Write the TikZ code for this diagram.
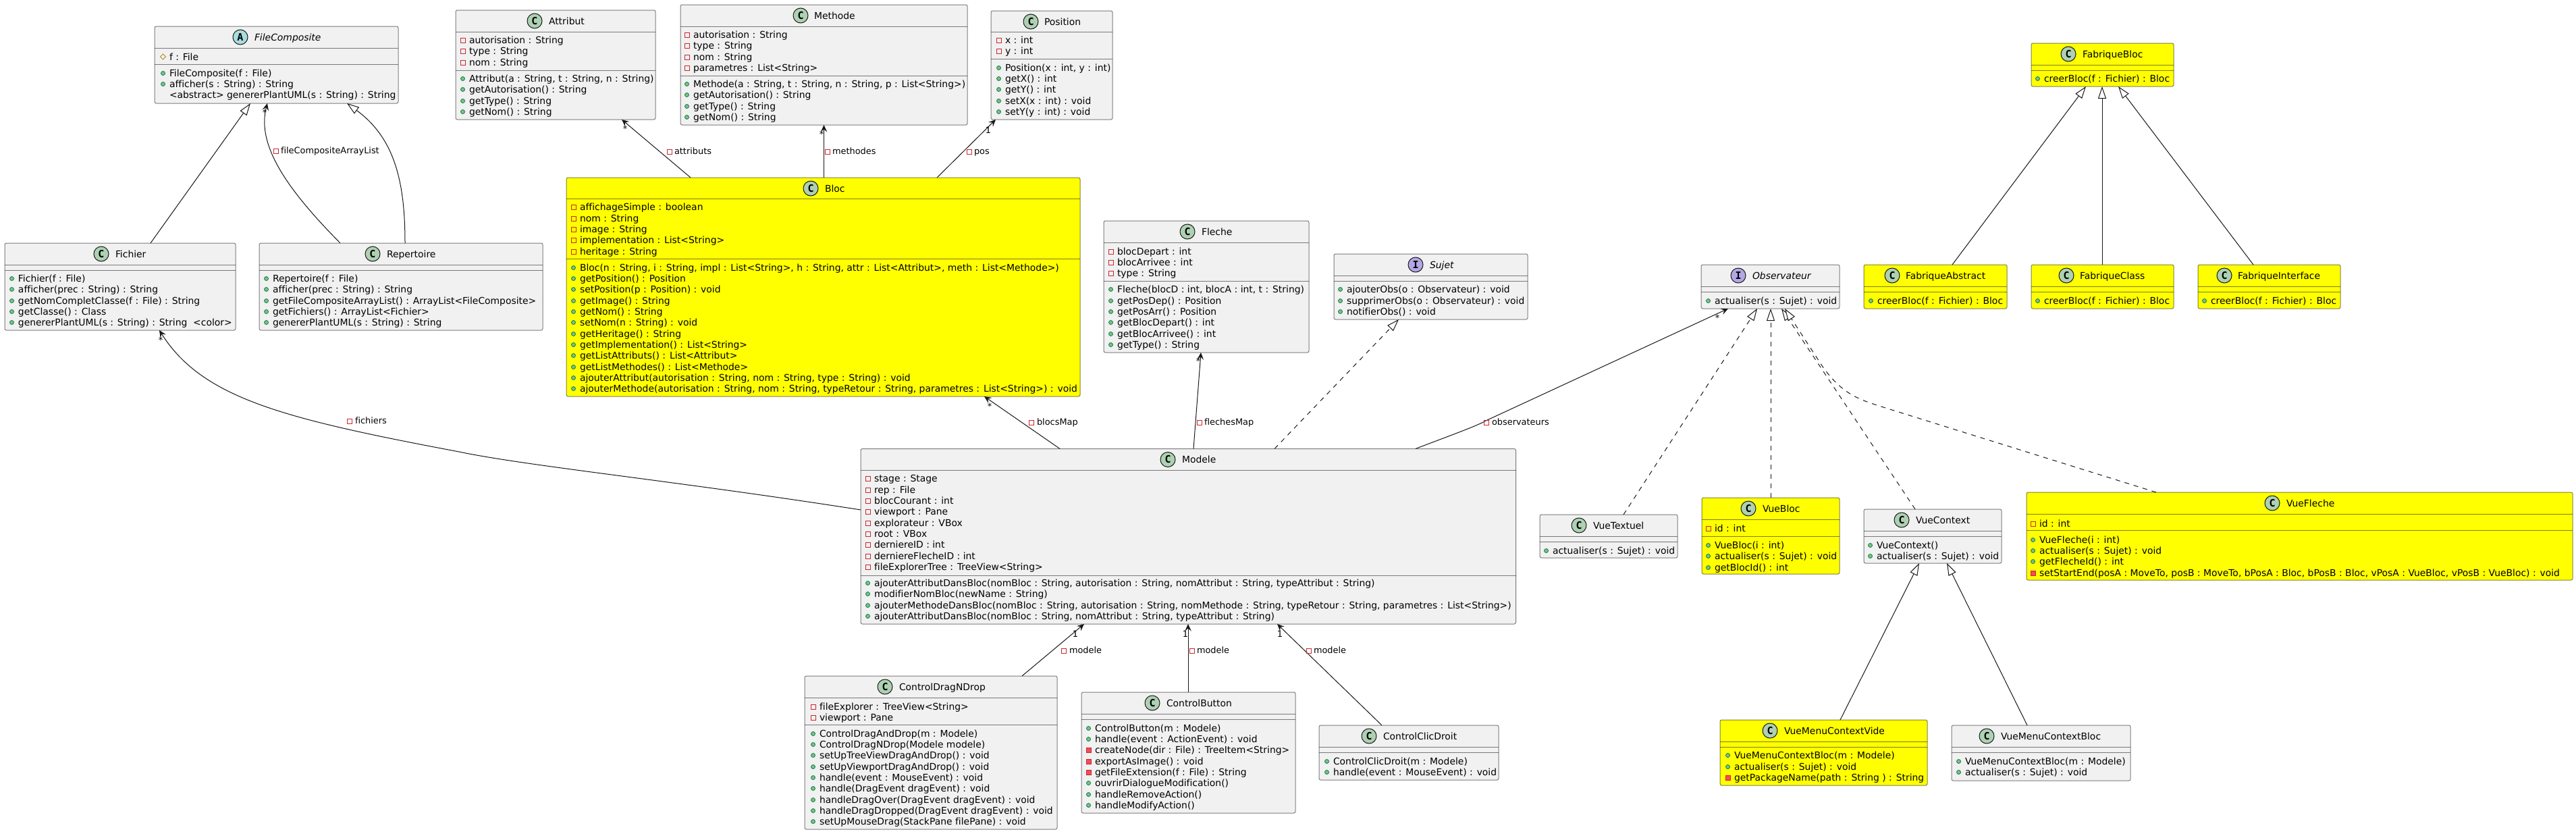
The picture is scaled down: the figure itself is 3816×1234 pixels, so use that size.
\documentclass[tikz,border=0pt]{standalone}
\usepackage{fontspec}
\setmainfont{DejaVu Sans}[Ligatures=NoCommon]
\newfontfamily\iconfont{DejaVu Sans Mono}[BoldFont={DejaVu Sans Mono Bold}]
\usetikzlibrary{arrows.meta}
\definecolor{boxg}{HTML}{F1F1F1}
\definecolor{boxy}{HTML}{FFFF00}
\definecolor{ink}{HTML}{181818}
\definecolor{icC}{HTML}{ADD1B2}
\definecolor{icA}{HTML}{A9DCDF}
\definecolor{icI}{HTML}{B4A7E5}
\definecolor{mred}{HTML}{C82930}
\definecolor{mredf}{HTML}{F24D5C}
\definecolor{mgreen}{HTML}{038048}
\definecolor{mgreenf}{HTML}{84BE84}
\definecolor{mgold}{HTML}{B38D22}
\tikzset{
  x=1pt,y=-1pt,
  classnode/.style={draw=ink,draw opacity=.55,line width=1pt,rounded corners=2.5pt,inner sep=0pt,outer sep=0pt},
  sepline/.style={ink,draw opacity=.55,line width=1pt},
  rowtext/.style={anchor=base west,inner sep=0pt,outer sep=0pt,font=\fontsize{13.9}{16}\selectfont,text=black},
  linktext/.style={anchor=base west,inner sep=0pt,outer sep=0pt,font=\fontsize{12.9}{15}\selectfont,text=black},
  cardtext/.style={anchor=center,inner sep=0pt,outer sep=0pt,font=\fontsize{12.9}{15}\selectfont,text=black},
  iconnode/.style={circle,draw=ink,line width=1pt,minimum size=22pt,inner sep=0pt,font=\iconfont\bfseries\fontsize{15}{15}\selectfont,text=black},
  assoc/.style={draw=ink,line width=1pt,-{Stealth[length=10.5pt,width=9.5pt,inset=4pt]}},
  extends/.style={draw=ink,line width=1pt,-{Triangle[length=18pt,width=12pt,fill=white]}},
  realize/.style={extends,dash pattern=on 7pt off 7pt},
}
\newcount\rwc
\newcommand\cbox[6]{% name x1 y1 x2 y2 fill
  \node[classnode,fill=#6,minimum width={(#4-#2)*1pt},minimum height={(#5-#3)*1pt}] (#1) at ({(#2+#4)/2},{(#3+#5)/2}) {};
  \def\curxa{#2}\def\curxb{#4}\def\cury{#3}}
\newcommand\seps[2]{% two separator ys
  \draw[sepline] (\curxa,#1) -- (\curxb,#1);
  \draw[sepline] (\curxa,#2) -- (\curxb,#2);}
\newcommand\chead[5]{% iconx letter colour namex name
  \global\advance\rwc by 1
  \node[iconnode,fill=#3] (ic\the\rwc) at (#1,\cury+16) {#2};
  \node[rowtext] (nm\the\rwc) at (#4,\cury+21) {#5};}
\newcommand\txtx[1]{\def\curtx{#1}}
\newcommand\rowtxt[2]{\global\advance\rwc by 1
  \node[rowtext] (r\the\rwc) at (\curtx,#1+5) {#2};}
\newcommand\mpub[2]{\draw[mgreen,fill=mgreenf,line width=.8pt] (\curtx-9.5,#1+.5) circle[radius=3pt];\rowtxt{#1}{#2}}
\newcommand\mpriv[2]{\draw[mred,line width=1pt] (\curtx-13,#1-3) rectangle (\curtx-6,#1+4);\rowtxt{#1}{#2}}
\newcommand\mprivm[2]{\draw[mred,fill=mredf,line width=1pt] (\curtx-13,#1-3) rectangle (\curtx-6,#1+4);\rowtxt{#1}{#2}}
\newcommand\mprot[2]{\draw[mgold,line width=1pt] (\curtx-9.5,#1-4) -- (\curtx-5.5,#1) -- (\curtx-9.5,#1+4) -- (\curtx-13.5,#1) -- cycle;\rowtxt{#1}{#2}}
\newcommand\lbl[4]{\global\advance\rwc by 1 % markerx textx y text
  \draw[mred,line width=1pt] (#1-3.5,#3-3) rectangle (#1+3.5,#3+4);
  \node[linktext] (l\the\rwc) at (#2,#3+4.5) {#4};}
\newcommand\card[3]{\global\advance\rwc by 1
  \node[cardtext] (k\the\rwc) at (#1,#2) {#3};}
\begin{document}
\begin{tikzpicture}
\useasboundingbox (0,0) rectangle (3816,1234);
\fill[white] (0,0) rectangle (3816,1234);

% FileComposite
\cbox{FileComposite}{229}{39}{590}{153}{boxg}
\seps{71}{95}
\chead{356}{A}{icA}{377}{\itshape FileComposite}
\txtx{251}
\mprot{84}{f : File}
\mpub{108}{FileComposite(f : File)}
\mpub{124}{afficher(s : String) : String}
\rowtxt{140}{<abstract> genererPlantUML(s : String) : String}

% Fichier
\cbox{Fichier}{7}{360}{349}{489}{boxg}
\seps{392}{400}
\chead{150}{C}{icC}{171}{Fichier}
\txtx{27}
\mpub{412}{Fichier(f : File)}
\mpub{428}{afficher(prec : String) : String}
\mpub{445}{getNomCompletClasse(f : File) : String}
\mpub{461}{getClasse() : Class}
\mpub{477}{genererPlantUML(s : String) : String \ <color>}

% Repertoire
\cbox{Repertoire}{384}{360}{804}{489}{boxg}
\seps{392}{400}
\chead{552}{C}{icC}{573}{Repertoire}
\txtx{404}
\mpub{412}{Repertoire(f : File)}
\mpub{428}{afficher(prec : String) : String}
\mpub{445}{getFileCompositeArrayList() : ArrayList<FileComposite>}
\mpub{461}{getFichiers() : ArrayList<Fichier>}
\mpub{477}{genererPlantUML(s : String) : String}

% Attribut
\cbox{Attribut}{675}{15}{971}{177}{boxg}
\seps{47}{104}
\chead{792}{C}{icC}{813}{Attribut}
\txtx{695}
\mpriv{59}{autorisation : String}
\mpriv{75}{type : String}
\mpriv{92}{nom : String}
\mpub{116}{Attribut(a : String, t : String, n : String)}
\mpub{132}{getAutorisation() : String}
\mpub{149}{getType() : String}
\mpub{165}{getNom() : String}

% Methode
\cbox{Methode}{1008}{7}{1433}{185}{boxg}
\seps{39}{112}
\chead{1186}{C}{icC}{1206}{Methode}
\txtx{1027}
\mpriv{51}{autorisation : String}
\mpriv{67}{type : String}
\mpriv{84}{nom : String}
\mpriv{100}{parametres : List<String>}
\mpub{124}{Methode(a : String, t : String, n : String, p : List<String>)}
\mpub{140}{getAutorisation() : String}
\mpub{157}{getType() : String}
\mpub{173}{getNom() : String}

% Position
\cbox{Position}{1468}{16}{1648}{177}{boxg}
\seps{47}{87.5}
\chead{1527}{C}{icC}{1547}{Position}
\txtx{1489}
\mpriv{59}{x : int}
\mpriv{75}{y : int}
\mpub{100}{Position(x : int, y : int)}
\mpub{116}{getX() : int}
\mpub{132}{getY() : int}
\mpub{149}{setX(x : int) : void}
\mpub{165}{setY(y : int) : void}

% Bloc
\cbox{Bloc}{839}{263}{1600}{587}{boxy}
\seps{294}{383}
\chead{1201}{C}{icC}{1222}{Bloc}
\txtx{859}
\mpriv{306}{affichageSimple : boolean}
\mpriv{323}{nom : String}
\mpriv{339}{image : String}
\mpriv{355}{implementation : List<String>}
\mpriv{372}{heritage : String}
\mpub{396}{Bloc(n : String, i : String, impl : List<String>, h : String, attr : List<Attribut>, meth : List<Methode>)}
\mpub{412}{getPosition() : Position}
\mpub{428}{setPosition(p : Position) : void}
\mpub{445}{getImage() : String}
\mpub{461}{getNom() : String}
\mpub{477}{setNom(n : String) : void}
\mpub{494}{getHeritage() : String}
\mpub{510}{getImplementation() : List<String>}
\mpub{526}{getListAttributs() : List<Attribut>}
\mpub{543}{getListMethodes() : List<Methode>}
\mpub{559}{ajouterAttribut(autorisation : String, nom : String, type : String) : void}
\mpub{575}{ajouterMethode(autorisation : String, nom : String, typeRetour : String, parametres : List<String>) : void}

% Fleche
\cbox{Fleche}{1635}{327}{1939}{522}{boxg}
\seps{359}{416.5}
\chead{1759}{C}{icC}{1780}{Fleche}
\txtx{1655}
\mpriv{372}{blocDepart : int}
\mpriv{388}{blocArrivee : int}
\mpriv{404}{type : String}
\mpub{428}{Fleche(blocD : int, blocA : int, t : String)}
\mpub{445}{getPosDep() : Position}
\mpub{461}{getPosArr() : Position}
\mpub{477}{getBlocDepart() : int}
\mpub{494}{getBlocArrivee() : int}
\mpub{510}{getType() : String}

% Sujet
\cbox{Sujet}{1976}{376}{2263}{473}{boxg}
\seps{408}{416.5}
\chead{2097}{I}{icI}{2118}{\itshape Sujet}
\txtx{1995}
\mpub{428}{ajouterObs(o : Observateur) : void}
\mpub{445}{supprimerObs(o : Observateur) : void}
\mpub{461}{notifierObs() : void}

% Observateur
\cbox{Observateur}{2520}{392}{2725}{457}{boxg}
\seps{424}{432}
\chead{2575}{I}{icI}{2596}{\itshape Observateur}
\txtx{2540}
\mpub{445}{actualiser(s : Sujet) : void}

% Modele
\cbox{Modele}{1275}{664.5}{2245.5}{924}{boxg}
\seps{696}{852}
\chead{1730}{C}{icC}{1751}{Modele}
\txtx{1295}
\mpriv{708}{stage : Stage}
\mpriv{725}{rep : File}
\mpriv{741}{blocCourant : int}
\mpriv{757}{viewport : Pane}
\mpriv{774}{explorateur : VBox}
\mpriv{790}{root : VBox}
\mpriv{806}{derniereID : int}
\mpriv{823}{derniereFlecheID : int}
\mpriv{839}{fileExplorerTree : TreeView<String>}
\mpub{863}{ajouterAttributDansBloc(nomBloc : String, autorisation : String, nomAttribut : String, typeAttribut : String)}
\mpub{879}{modifierNomBloc(newName : String)}
\mpub{896}{ajouterMethodeDansBloc(nomBloc : String, autorisation : String, nomMethode : String, typeRetour : String, parametres : List<String>)}
\mpub{912}{ajouterAttributDansBloc(nomBloc : String, nomAttribut : String, typeAttribut : String)}

% ControlDragNDrop
\cbox{ControlDragNDrop}{1192}{1001}{1566}{1228}{boxg}
\seps{1033}{1073}
\chead{1311}{C}{icC}{1332}{ControlDragNDrop}
\txtx{1214}
\mpriv{1046}{fileExplorer : TreeView<String>}
\mpriv{1062}{viewport : Pane}
\mpub{1086}{ControlDragAndDrop(m : Modele)}
\mpub{1102}{ControlDragNDrop(Modele modele)}
\mpub{1118}{setUpTreeViewDragAndDrop() : void}
\mpub{1135}{setUpViewportDragAndDrop() : void}
\mpub{1151}{handle(event : MouseEvent) : void}
\mpub{1167}{handle(DragEvent dragEvent) : void}
\mpub{1184}{handleDragOver(DragEvent dragEvent) : void}
\mpub{1200}{handleDragDropped(DragEvent dragEvent) : void}
\mpub{1216}{setUpMouseDrag(StackPane filePane) : void}

% ControlButton
\cbox{ControlButton}{1602}{1025}{1919}{1204}{boxg}
\seps{1057}{1065}
\chead{1707}{C}{icC}{1728}{ControlButton}
\txtx{1622}
\mpub{1078}{ControlButton(m : Modele)}
\mpub{1094}{handle(event : ActionEvent) : void}
\mprivm{1110}{createNode(dir : File) : TreeItem<String>}
\mprivm{1127}{exportAsImage() : void}
\mprivm{1143}{getFileExtension(f : File) : String}
\mpub{1159}{ouvrirDialogueModification()}
\mpub{1176}{handleRemoveAction()}
\mpub{1192}{handleModifyAction()}

% ControlClicDroit
\cbox{ControlClicDroit}{1954}{1074}{2220}{1155}{boxg}
\seps{1106}{1114}
\chead{2028}{C}{icC}{2049}{ControlClicDroit}
\txtx{1975}
\mpub{1127}{ControlClicDroit(m : Modele)}
\mpub{1143}{handle(event : MouseEvent) : void}

% VueTextuel
\cbox{VueTextuel}{2281}{762}{2485}{826}{boxg}
\seps{794}{802}
\chead{2339}{C}{icC}{2360}{VueTextuel}
\txtx{2300}
\mpub{815}{actualiser(s : Sujet) : void}

% VueBloc
\cbox{VueBloc}{2521}{737}{2725}{850}{boxy}
\seps{769}{794}
\chead{2590}{C}{icC}{2611}{VueBloc}
\txtx{2540}
\mpriv{782}{id : int}
\mpub{807}{VueBloc(i : int)}
\mpub{823}{actualiser(s : Sujet) : void}
\mpub{840}{getBlocId() : int}

% VueContext
\cbox{VueContext}{2761}{754}{2965}{834}{boxg}
\seps{786}{794}
\chead{2817}{C}{icC}{2838}{VueContext}
\txtx{2780}
\mpub{807}{VueContext()}
\mpub{823}{actualiser(s : Sujet) : void}

% VueFleche
\cbox{VueFleche}{3002}{729}{3811}{859}{boxy}
\seps{761}{785}
\chead{3366}{C}{icC}{3387}{VueFleche}
\txtx{3021}
\mpriv{775}{id : int}
\mpub{799}{VueFleche(i : int)}
\mpub{815}{actualiser(s : Sujet) : void}
\mpub{831}{getFlecheId() : int}
\mprivm{848}{setStartEnd(posA : MoveTo, posB : MoveTo, bPosA : Bloc, bPosB : Bloc, vPosA : VueBloc, vPosB : VueBloc) : void}

% VueMenuContextVide
\cbox{VueMenuContextVide}{2548}{1066}{2855}{1163}{boxy}
\seps{1098}{1106}
\chead{2622}{C}{icC}{2643}{VueMenuContextVide}
\txtx{2569}
\mpub{1118}{VueMenuContextBloc(m : Modele)}
\mpub{1135}{actualiser(s : Sujet) : void}
\mprivm{1151}{getPackageName(path : String ) : String}

% VueMenuContextBloc
\cbox{VueMenuContextBloc}{2891}{1074}{3156}{1156}{boxg}
\seps{1106}{1114}
\chead{2943}{C}{icC}{2964}{VueMenuContextBloc}
\txtx{2911}
\mpub{1127}{VueMenuContextBloc(m : Modele)}
\mpub{1143}{actualiser(s : Sujet) : void}

% Fabriques
\cbox{FabriqueBloc}{3009}{64}{3220}{128}{boxy}
\seps{96}{104}
\chead{3064}{C}{icC}{3085}{FabriqueBloc}
\txtx{3028}
\mpub{116}{creerBloc(f : Fichier) : Bloc}

\cbox{FabriqueAbstract}{2761}{392}{2973}{457}{boxy}
\seps{424}{432}
\chead{2803}{C}{icC}{2823}{FabriqueAbstract}
\txtx{2781}
\mpub{445}{creerBloc(f : Fichier) : Bloc}

\cbox{FabriqueClass}{3009}{392}{3220}{457}{boxy}
\seps{424}{432}
\chead{3061}{C}{icC}{3081}{FabriqueClass}
\txtx{3028}
\mpub{445}{creerBloc(f : Fichier) : Bloc}

\cbox{FabriqueInterface}{3256}{392}{3467}{457}{boxy}
\seps{424}{432}
\chead{3295}{C}{icC}{3315}{FabriqueInterface}
\txtx{3275}
\mpub{445}{creerBloc(f : Fichier) : Bloc}

% connectors
\draw[extends] (223,0 |- Fichier.north) -- (371,0 |- FileComposite.south);
\draw[assoc] (504,0 |- Repertoire.north) .. controls (425,280) and (380,215) .. (396,0 |- FileComposite.south);
\draw[extends] (600,0 |- Repertoire.north) .. controls (600,270) and (585,205) .. (514,0 |- FileComposite.south);
\draw[assoc] (Modele.west |- 0,755) .. controls (1000,712) and (780,690) .. (680,669) .. controls (420,620) and (300,590) .. (236,0 |- Fichier.south);
\draw[assoc] (1023,0 |- Bloc.north) -- (921,0 |- Attribut.south);
\draw[assoc] (1220.5,0 |- Bloc.north) -- (1220.5,0 |- Methode.south);
\draw[assoc] (1388,0 |- Bloc.north) -- (1475,0 |- Position.south);
\draw[assoc] (1570,0 |- Modele.north) -- (1458,0 |- Bloc.south);
\draw[assoc] (1768,0 |- Modele.north) -- (1779,0 |- Fleche.south);
\draw[realize] (1888,0 |- Modele.north) -- (2072,0 |- Sujet.south);
\draw[assoc] (2097,0 |- Modele.north) .. controls (2140,648) and (2190,630) .. (2201,623) -- (2560,0 |- Observateur.south);
\draw[assoc] (1514,0 |- ControlDragNDrop.north) -- (1606,0 |- Modele.south);
\draw[assoc] (1760,0 |- ControlButton.north) -- (1760,0 |- Modele.south);
\draw[assoc] (2047,0 |- ControlClicDroit.north) -- (1892,0 |- Modele.south);
\draw[realize] (2405,0 |- VueTextuel.north) -- (2603,0 |- Observateur.south);
\draw[realize] (2623,0 |- VueBloc.north) -- (2623,0 |- Observateur.south);
\draw[realize] (2837,0 |- VueContext.north) -- (2639,0 |- Observateur.south);
\draw[realize] (3194,0 |- VueFleche.north) -- (2793,604) .. controls (2755,592) and (2730,585) .. (2700,543) -- (2644,0 |- Observateur.south);
\draw[extends] (2726,0 |- VueMenuContextVide.north) -- (2843,0 |- VueContext.south);
\draw[extends] (3003,0 |- VueMenuContextBloc.north) -- (2884,0 |- VueContext.south);
\draw[extends] (2892,0 |- FabriqueAbstract.north) -- (3090,0 |- FabriqueBloc.south);
\draw[extends] (3114,0 |- FabriqueClass.north) -- (3114,0 |- FabriqueBloc.south);
\draw[extends] (3338,0 |- FabriqueInterface.north) -- (3138,0 |- FabriqueBloc.south);

% link labels
\lbl{409}{416}{223}{fileCompositeArrayList}
\lbl{992}{999}{224}{attributs}
\lbl{1226}{1233}{224}{methodes}
\lbl{1436}{1443}{224}{pos}
\lbl{1528}{1536}{625}{blocsMap}
\lbl{1777}{1784}{625}{flechesMap}
\lbl{2202}{2210}{625}{observateurs}
\lbl{518}{526}{623}{fichiers}
\lbl{1576}{1584}{963}{modele}
\lbl{1766}{1773}{963}{modele}
\lbl{1939}{1946}{963}{modele}
% cardinalities
\card{392}{167}{*}
\card{238}{504}{*}
\card{926}{191}{*}
\card{1217}{199}{*}
\card{1464}{193}{1}
\card{1466}{602}{*}
\card{1775}{535}{*}
\card{2544}{471}{*}
\card{1593}{939}{1}
\card{1756}{939}{1}
\card{1896}{939}{1}
\end{tikzpicture}
\end{document}
